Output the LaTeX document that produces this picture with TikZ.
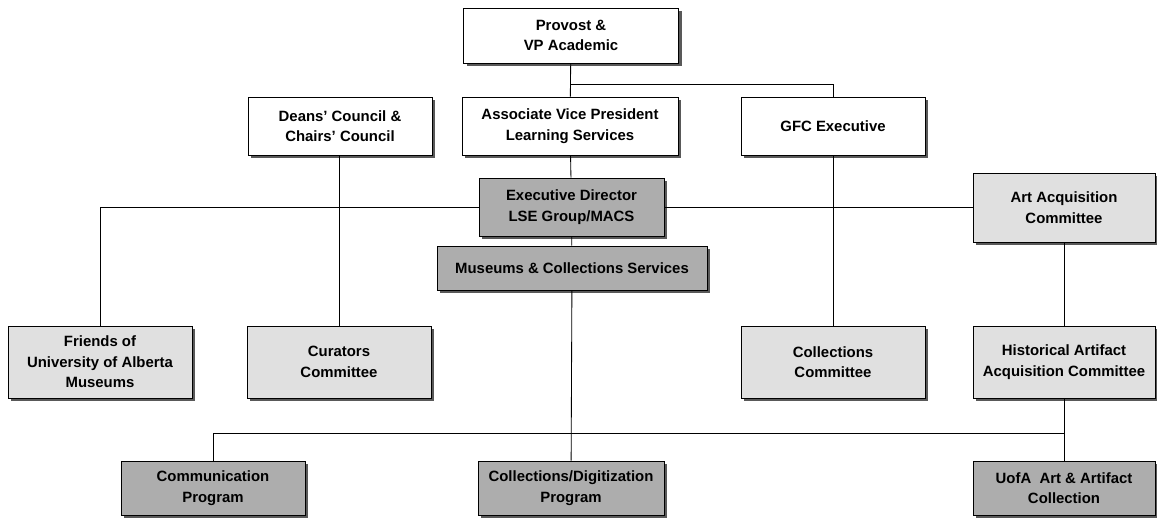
\documentclass[tikz,border=0pt]{standalone}
\usepackage{fontspec}
\setmainfont{Liberation Sans}
\usetikzlibrary{shadows}

\begin{document}
\begin{tikzpicture}[x=0.025cm,y=-0.025cm,
	box/.style={draw,line width=0.6pt,align=center,font=\bfseries\fontsize{10.6}{14.5}\selectfont,
		minimum width=4.6cm,minimum height=1.45cm,inner sep=1pt,
		drop shadow={shadow xshift=2.2pt,shadow yshift=-2.2pt,fill=black!65,opacity=1}},
	plain/.style={box,fill=white},
	light/.style={box,fill=black!12},
	dark/.style={box,fill=black!32},
	link/.style={line width=0.6pt}]
	\useasboundingbox (0,0) rectangle (1157,518);

	% top levels
	\node[plain,minimum width=5.375cm,minimum height=1.375cm] (provost) at (571,35.5) {Provost \&\\VP Academic};
	\node[plain] (deans) at (340,126) {Deans' Council \&\\Chairs' Council};
	\node[plain,minimum width=5.4cm] (avp) at (570,126) {Associate Vice President\\Learning Services};
	\node[plain] (gfc) at (833,126) {GFC Executive};

	% middle
	\node[dark,minimum width=4.625cm] (exec) at (571.5,207) {Executive Director\\LSE Group/MACS};
	\node[dark,minimum width=6.75cm,minimum height=1.1cm] (museums) at (572,268) {Museums \& Collections Services};
	\node[light,minimum width=4.55cm,minimum height=1.725cm] (artacq) at (1064,207.5) {Art Acquisition\\Committee};

	% committees
	\node[light,minimum height=1.8cm] (friends) at (100,362) {Friends of\\University of Alberta\\Museums};
	\node[light,minimum height=1.8cm] (curators) at (339,362) {Curators\\Committee};
	\node[light,minimum height=1.8cm] (collcom) at (833,362) {Collections\\Committee};
	\node[light,minimum width=4.55cm,minimum height=1.8cm] (hist) at (1064,362) {Historical Artifact\\Acquisition Committee};

	% programs
	\node[dark,minimum height=1.35cm] (comm) at (213,488) {Communication\\Program};
	\node[dark,minimum width=4.65cm,minimum height=1.35cm] (colldig) at (571,488) {Collections/Digitization\\Program};
	\node[dark,minimum width=4.55cm,minimum height=1.35cm] (uofa) at (1064,488) {UofA\ \ Art \& Artifact\\Collection};

	\coordinate (split) at (571,84);
	\coordinate (bus) at (571,433);

	\draw[link] (provost) -- (avp);
	\draw[link] (split) -| (gfc.north);
	\draw[link] (avp) -- (exec);
	\draw[link] (exec.west) -| (friends.north);
	\draw[link] (exec.east) -- (exec.east -| artacq.west);
	\draw[link] (deans.south -| curators.north) -- (curators.north);
	\draw[link] (gfc) -- (collcom);
	\draw[link] (exec) -- (museums);
	\draw[link] (museums) -- (colldig);
	\draw[link] (artacq) -- (hist);
	\draw[link] (hist) -- (uofa);
	\draw[link] (comm.north) |- (uofa.north |- bus);
\end{tikzpicture}
\end{document}
